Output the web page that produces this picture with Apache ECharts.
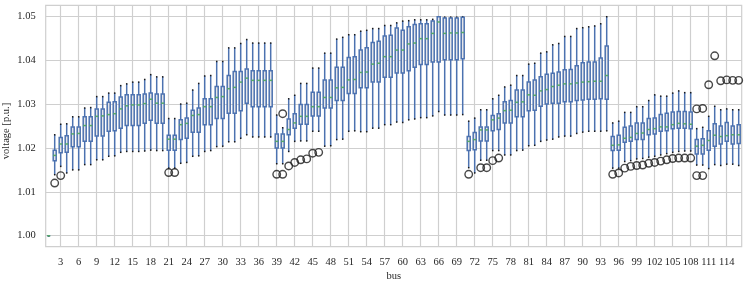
<!DOCTYPE html>
<html>
<head>
<meta charset="utf-8">
<script src="https://cdn.jsdelivr.net/npm/echarts@6/dist/echarts.min.js"></script>
<style>
html,body{margin:0;padding:0;background:#fff;}
#chart{width:748px;height:281px;}
</style>
</head>
<body>
<div id="chart"></div>
<script>
const buses = [1,2,3,4,5,6,7,8,9,10,11,12,13,14,15,16,17,18,19,20,21,22,23,24,25,26,27,28,29,30,31,32,33,34,35,36,37,38,39,40,41,42,43,44,45,46,47,48,49,50,51,52,53,54,55,56,57,58,59,60,61,62,63,64,65,66,67,68,69,70,71,72,73,74,75,76,77,78,79,80,81,82,83,84,85,86,87,88,89,90,91,92,93,94,95,96,97,98,99,100,101,102,103,104,105,106,107,108,109,110,111,112,113,114,115,116];

const whiskerLow = [
1.0000,1.0139,1.0158,1.0143,1.0150,1.0150,1.0162,1.0162,1.0173,1.0173,
1.0181,1.0182,1.0190,1.0192,1.0192,1.0192,1.0193,1.0195,1.0194,1.0194,
1.0154,1.0154,1.0165,1.0167,1.0181,1.0182,1.0192,1.0194,1.0203,1.0204,
1.0214,1.0214,1.0222,1.0230,1.0225,1.0225,1.0225,1.0225,1.0164,1.0164,
1.0192,1.0215,1.0216,1.0216,1.0238,1.0238,1.0204,1.0205,1.0219,1.0220,
1.0238,1.0239,1.0237,1.0237,1.0245,1.0245,1.0253,1.0253,1.0259,1.0258,
1.0264,1.0266,1.0269,1.0269,1.0273,1.0283,1.0275,1.0275,1.0275,1.0276,
1.0155,1.0143,1.0172,1.0172,1.0194,1.0194,1.0184,1.0184,1.0194,1.0195,
1.0205,1.0206,1.0215,1.0218,1.0220,1.0225,1.0227,1.0227,1.0233,1.0236,
1.0238,1.0238,1.0238,1.0239,1.0154,1.0154,1.0169,1.0171,1.0175,1.0176,
1.0179,1.0181,1.0184,1.0187,1.0190,1.0192,1.0193,1.0193,1.0161,1.0161,
1.0153,1.0162,1.0160,1.0163,1.0163,1.0160];

const quartile1 = [
1.0000,1.0171,1.0189,1.0190,1.0203,1.0203,1.0215,1.0215,1.0227,1.0227,
1.0238,1.0239,1.0245,1.0251,1.0251,1.0251,1.0256,1.0263,1.0256,1.0256,
1.0195,1.0195,1.0219,1.0222,1.0236,1.0236,1.0253,1.0253,1.0267,1.0267,
1.0279,1.0279,1.0285,1.0302,1.0294,1.0294,1.0294,1.0294,1.0200,1.0200,
1.0230,1.0245,1.0254,1.0254,1.0273,1.0273,1.0291,1.0291,1.0308,1.0308,
1.0324,1.0324,1.0337,1.0337,1.0350,1.0350,1.0361,1.0361,1.0371,1.0371,
1.0376,1.0384,1.0390,1.0390,1.0396,1.0396,1.0401,1.0401,1.0401,1.0403,
1.0194,1.0196,1.0216,1.0216,1.0239,1.0242,1.0257,1.0257,1.0271,1.0271,
1.0285,1.0286,1.0295,1.0300,1.0302,1.0302,1.0305,1.0305,1.0308,1.0309,
1.0311,1.0311,1.0312,1.0311,1.0194,1.0195,1.0213,1.0215,1.0219,1.0219,
1.0230,1.0232,1.0238,1.0239,1.0244,1.0245,1.0245,1.0244,1.0186,1.0186,
1.0195,1.0204,1.0209,1.0215,1.0209,1.0210];

const medians = [
1.0000,1.0183,1.0209,1.0209,1.0232,1.0233,1.0251,1.0251,1.0272,1.0273,
1.0276,1.0278,1.0289,1.0296,1.0298,1.0298,1.0301,1.0311,1.0302,1.0302,
1.0220,1.0220,1.0253,1.0256,1.0274,1.0276,1.0294,1.0294,1.0315,1.0317,
1.0335,1.0338,1.0350,1.0359,1.0354,1.0354,1.0354,1.0354,1.0215,1.0215,
1.0242,1.0257,1.0272,1.0272,1.0294,1.0294,1.0315,1.0315,1.0337,1.0338,
1.0355,1.0356,1.0372,1.0373,1.0391,1.0393,1.0408,1.0408,1.0423,1.0423,
1.0437,1.0439,1.0449,1.0449,1.0461,1.0487,1.0461,1.0462,1.0462,1.0463,
1.0215,1.0219,1.0241,1.0241,1.0264,1.0268,1.0285,1.0286,1.0304,1.0305,
1.0321,1.0320,1.0330,1.0333,1.0340,1.0343,1.0346,1.0346,1.0348,1.0350,
1.0351,1.0352,1.0352,1.0365,1.0206,1.0207,1.0222,1.0224,1.0233,1.0234,
1.0242,1.0244,1.0248,1.0248,1.0253,1.0256,1.0255,1.0254,1.0204,1.0206,
1.0217,1.0229,1.0226,1.0228,1.0230,1.0230];

const quartile3 = [
1.0000,1.0195,1.0224,1.0228,1.0248,1.0248,1.0271,1.0271,1.0289,1.0289,
1.0304,1.0305,1.0316,1.0321,1.0321,1.0321,1.0323,1.0325,1.0323,1.0323,
1.0229,1.0229,1.0264,1.0268,1.0286,1.0291,1.0312,1.0312,1.0340,1.0340,
1.0365,1.0374,1.0374,1.0380,1.0376,1.0376,1.0376,1.0376,1.0232,1.0232,
1.0266,1.0278,1.0299,1.0299,1.0327,1.0327,1.0355,1.0355,1.0384,1.0384,
1.0406,1.0408,1.0423,1.0428,1.0440,1.0443,1.0455,1.0457,1.0473,1.0468,
1.0476,1.0481,1.0483,1.0483,1.0489,1.0499,1.0496,1.0496,1.0496,1.0498,
1.0226,1.0235,1.0248,1.0248,1.0274,1.0278,1.0305,1.0308,1.0332,1.0332,
1.0350,1.0355,1.0362,1.0368,1.0370,1.0373,1.0378,1.0379,1.0387,1.0394,
1.0396,1.0396,1.0405,1.0432,1.0226,1.0229,1.0247,1.0250,1.0257,1.0257,
1.0267,1.0268,1.0276,1.0279,1.0282,1.0283,1.0283,1.0282,1.0219,1.0221,
1.0239,1.0255,1.0250,1.0258,1.0250,1.0253];

const whiskerHigh = [
1.0000,1.0230,1.0254,1.0255,1.0271,1.0271,1.0291,1.0292,1.0317,1.0317,
1.0325,1.0325,1.0342,1.0346,1.0350,1.0350,1.0356,1.0367,1.0362,1.0362,
1.0267,1.0267,1.0300,1.0302,1.0332,1.0347,1.0364,1.0365,1.0397,1.0397,
1.0428,1.0428,1.0438,1.0447,1.0439,1.0439,1.0439,1.0439,1.0275,1.0246,
1.0312,1.0320,1.0347,1.0347,1.0382,1.0382,1.0416,1.0416,1.0448,1.0452,
1.0458,1.0458,1.0466,1.0468,1.0472,1.0472,1.0479,1.0479,1.0485,1.0489,
1.0490,1.0492,1.0492,1.0492,1.0493,1.0499,1.0498,1.0498,1.0498,1.0499,
1.0261,1.0268,1.0287,1.0287,1.0312,1.0320,1.0339,1.0343,1.0365,1.0365,
1.0391,1.0393,1.0416,1.0419,1.0435,1.0438,1.0454,1.0454,1.0472,1.0474,
1.0476,1.0478,1.0483,1.0499,1.0257,1.0261,1.0281,1.0281,1.0294,1.0294,
1.0308,1.0321,1.0318,1.0318,1.0325,1.0330,1.0326,1.0326,1.0244,1.0247,
1.0272,1.0295,1.0287,1.0289,1.0287,1.0287];

const outlierBus = [2,3,21,22,39,40,40,41,42,43,44,45,46,71,73,74,75,76,95,96,97,98,99,100,101,102,103,104,105,106,107,108,109,109,110,110,111,112,113,114,115,116];
const outlierValue = [1.0120,1.0137,1.0144,1.0144,1.0140,1.0140,1.0278,1.0159,1.0167,1.0173,1.0175,1.0188,1.0190,1.0140,1.0155,1.0155,1.0171,1.0177,1.0140,1.0143,1.0154,1.0158,1.0160,1.0161,1.0165,1.0167,1.0170,1.0173,1.0176,1.0177,1.0177,1.0177,1.0137,1.0289,1.0137,1.0290,1.0344,1.0410,1.0353,1.0355,1.0354,1.0354];

const xTickLabels = [3,6,9,12,15,18,21,24,27,30,33,36,39,42,45,48,51,54,57,60,63,66,69,72,75,78,81,84,87,90,93,96,99,102,105,108,111,114];
const yTickLabels = [1.00,1.01,1.02,1.03,1.04,1.05];

const BLUE = '#4c72b0', GREEN = '#55a868', CAP = '#1a1a1a', GRID = '#cfcfcf';
const FONT = 'Liberation Serif';

const boxData = buses.map((b, i) => [b, whiskerLow[i], quartile1[i], medians[i], quartile3[i], whiskerHigh[i]]);
const outData = outlierBus.map((b, i) => [b, outlierValue[i]]);

const chart = echarts.init(document.getElementById('chart'), null, {renderer: 'canvas'});
chart.setOption({
  animation: false,
  backgroundColor: '#ffffff',
  grid: {left: 45.7, right: 6.3, top: 5.3, bottom: 34.3, show: true, borderColor: GRID, borderWidth: 1.2, containLabel: false, outerBoundsMode: 'none'},
  graphic: [{
    type: 'text', x: 6.5, y: 131, rotation: Math.PI / 2, z: 10,
    style: {text: 'voltage [p.u.]', fill: '#262626', font: '10.5px "Liberation Serif"', align: 'center', verticalAlign: 'middle'}
  }],
  xAxis: {
    type: 'value', min: 0.5, max: 116.5,
    name: 'bus', nameLocation: 'middle', nameGap: 24, nameMoveOverlap: false,
    nameTextStyle: {fontFamily: FONT, fontSize: 10.5, color: '#262626'},
    axisLine: {show: false},
    axisTick: {show: false, customValues: xTickLabels},
    axisLabel: {customValues: xTickLabels, fontFamily: FONT, fontSize: 10.5, color: '#262626', margin: 10},
    splitLine: {show: true, lineStyle: {color: GRID, width: 1.2}}
  },
  yAxis: {
    type: 'value', min: 0.9975, max: 1.0525,
    axisLine: {show: false},
    axisTick: {show: false, customValues: yTickLabels},
    axisLabel: {customValues: yTickLabels, formatter: v => Number(v).toFixed(2), fontFamily: FONT, fontSize: 10.5, color: '#262626', margin: 10},
    splitLine: {show: true, lineStyle: {color: GRID, width: 1.2}}
  },
  series: [
    {
      type: 'custom',
      data: boxData,
      encode: {x: 0, y: [1, 2, 3, 4, 5]},
      z: 2,
      renderItem: function (params, api) {
        const b = api.value(0);
        const pLo = api.coord([b, api.value(1)]);
        const pQ1 = api.coord([b, api.value(2)]);
        const pMd = api.coord([b, api.value(3)]);
        const pQ3 = api.coord([b, api.value(4)]);
        const pHi = api.coord([b, api.value(5)]);
        const w = api.size([1, 0])[0];
        const x = pMd[0];
        const hb = w * 0.25, hc = w * 0.125;
        const lw = 1.5;
        return {
          type: 'group',
          children: [
            {type: 'line', shape: {x1: x, y1: pLo[1], x2: x, y2: pQ1[1]}, style: {stroke: BLUE, lineWidth: lw}},
            {type: 'line', shape: {x1: x, y1: pQ3[1], x2: x, y2: pHi[1]}, style: {stroke: BLUE, lineWidth: lw}},
            {type: 'line', shape: {x1: x - hc, y1: pLo[1], x2: x + hc, y2: pLo[1]}, style: {stroke: CAP, lineWidth: lw}},
            {type: 'line', shape: {x1: x - hc, y1: pHi[1], x2: x + hc, y2: pHi[1]}, style: {stroke: CAP, lineWidth: lw}},
            {type: 'rect', shape: {x: x - hb, y: pQ3[1], width: 2 * hb, height: pQ1[1] - pQ3[1]}, style: {fill: '#e4e5e8', stroke: BLUE, lineWidth: lw}},
            {type: 'line', shape: {x1: x - hb, y1: pMd[1], x2: x + hb, y2: pMd[1]}, style: {stroke: GREEN, lineWidth: lw}}
          ]
        };
      }
    },
    {
      type: 'scatter',
      data: outData,
      z: 3,
      symbol: 'circle',
      symbolSize: 7.5,
      itemStyle: {color: 'rgba(0,0,0,0)', borderColor: '#1a1a1a', borderWidth: 1.4}
    }
  ]
});
</script>
</body>
</html>
